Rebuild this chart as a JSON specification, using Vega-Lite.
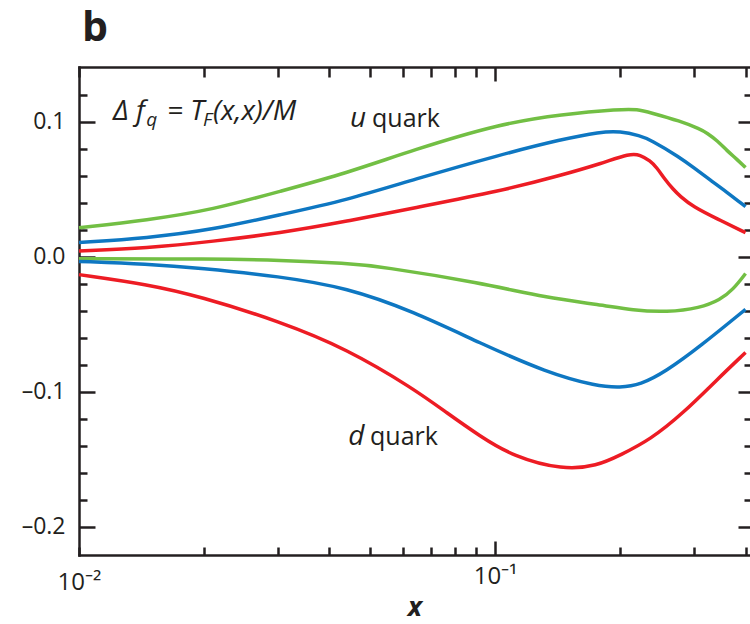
{
  "$schema": "https://vega.github.io/schema/vega-lite/v6.json",
  "width": 671,
  "height": 488,
  "autosize": {"type": "none"},
  "padding": {"left": 79, "top": 67, "right": 0, "bottom": 69},
  "background": "white",
  "config": {
    "view": {"stroke": null},
    "font": "Open Sans",
    "axis": {"domainColor": "#231f20", "tickColor": "#231f20", "labelColor": "#231f20", "titleColor": "#231f20", "domainWidth": 2.5, "tickWidth": 2.5, "grid": false, "domainCap": "square"}
  },
  "datasets": {
    "curves": [
      {"quark": "u", "set": "s1", "x": 0.01, "y": 0.0215},
      {"quark": "u", "set": "s1", "x": 0.01457, "y": 0.027},
      {"quark": "u", "set": "s1", "x": 0.021, "y": 0.0348},
      {"quark": "u", "set": "s1", "x": 0.0304, "y": 0.0484},
      {"quark": "u", "set": "s1", "x": 0.0441, "y": 0.062},
      {"quark": "u", "set": "s1", "x": 0.0635, "y": 0.079},
      {"quark": "u", "set": "s1", "x": 0.1028, "y": 0.0985},
      {"quark": "u", "set": "s1", "x": 0.145, "y": 0.1055},
      {"quark": "u", "set": "s1", "x": 0.2, "y": 0.1093},
      {"quark": "u", "set": "s1", "x": 0.22, "y": 0.1092},
      {"quark": "u", "set": "s1", "x": 0.236, "y": 0.1067},
      {"quark": "u", "set": "s1", "x": 0.2785, "y": 0.1005},
      {"quark": "u", "set": "s1", "x": 0.311, "y": 0.0945},
      {"quark": "u", "set": "s1", "x": 0.3236, "y": 0.0915},
      {"quark": "u", "set": "s1", "x": 0.3418, "y": 0.086},
      {"quark": "u", "set": "s1", "x": 0.3612, "y": 0.0785},
      {"quark": "u", "set": "s1", "x": 0.38, "y": 0.0725},
      {"quark": "u", "set": "s1", "x": 0.4, "y": 0.066},
      {"quark": "u", "set": "s2", "x": 0.01, "y": 0.0105},
      {"quark": "u", "set": "s2", "x": 0.01457, "y": 0.0138},
      {"quark": "u", "set": "s2", "x": 0.021, "y": 0.02},
      {"quark": "u", "set": "s2", "x": 0.0304, "y": 0.031},
      {"quark": "u", "set": "s2", "x": 0.0441, "y": 0.042},
      {"quark": "u", "set": "s2", "x": 0.0635, "y": 0.057},
      {"quark": "u", "set": "s2", "x": 0.1028, "y": 0.0755},
      {"quark": "u", "set": "s2", "x": 0.145, "y": 0.087},
      {"quark": "u", "set": "s2", "x": 0.1789, "y": 0.0925},
      {"quark": "u", "set": "s2", "x": 0.2, "y": 0.093},
      {"quark": "u", "set": "s2", "x": 0.2232, "y": 0.0895},
      {"quark": "u", "set": "s2", "x": 0.236, "y": 0.0867},
      {"quark": "u", "set": "s2", "x": 0.2785, "y": 0.0735},
      {"quark": "u", "set": "s2", "x": 0.3, "y": 0.066},
      {"quark": "u", "set": "s2", "x": 0.328, "y": 0.057},
      {"quark": "u", "set": "s2", "x": 0.36, "y": 0.048},
      {"quark": "u", "set": "s2", "x": 0.4, "y": 0.037},
      {"quark": "u", "set": "s3", "x": 0.01, "y": 0.0042},
      {"quark": "u", "set": "s3", "x": 0.01457, "y": 0.0064},
      {"quark": "u", "set": "s3", "x": 0.021, "y": 0.0113},
      {"quark": "u", "set": "s3", "x": 0.0304, "y": 0.0175},
      {"quark": "u", "set": "s3", "x": 0.0441, "y": 0.0262},
      {"quark": "u", "set": "s3", "x": 0.0635, "y": 0.036},
      {"quark": "u", "set": "s3", "x": 0.1028, "y": 0.0485},
      {"quark": "u", "set": "s3", "x": 0.145, "y": 0.0605},
      {"quark": "u", "set": "s3", "x": 0.18, "y": 0.069},
      {"quark": "u", "set": "s3", "x": 0.2112, "y": 0.0765},
      {"quark": "u", "set": "s3", "x": 0.2232, "y": 0.0755},
      {"quark": "u", "set": "s3", "x": 0.236, "y": 0.071},
      {"quark": "u", "set": "s3", "x": 0.2449, "y": 0.066},
      {"quark": "u", "set": "s3", "x": 0.2563, "y": 0.057},
      {"quark": "u", "set": "s3", "x": 0.2678, "y": 0.05},
      {"quark": "u", "set": "s3", "x": 0.2785, "y": 0.0447},
      {"quark": "u", "set": "s3", "x": 0.2992, "y": 0.037},
      {"quark": "u", "set": "s3", "x": 0.3418, "y": 0.028},
      {"quark": "u", "set": "s3", "x": 0.4, "y": 0.0178},
      {"quark": "d", "set": "s1", "x": 0.01, "y": -0.0015},
      {"quark": "d", "set": "s1", "x": 0.021, "y": -0.0017},
      {"quark": "d", "set": "s1", "x": 0.0304, "y": -0.0025},
      {"quark": "d", "set": "s1", "x": 0.0441, "y": -0.005},
      {"quark": "d", "set": "s1", "x": 0.0529, "y": -0.0072},
      {"quark": "d", "set": "s1", "x": 0.092, "y": -0.0193},
      {"quark": "d", "set": "s1", "x": 0.1334, "y": -0.0306},
      {"quark": "d", "set": "s1", "x": 0.1789, "y": -0.0356},
      {"quark": "d", "set": "s1", "x": 0.2147, "y": -0.0398},
      {"quark": "d", "set": "s1", "x": 0.259, "y": -0.0412},
      {"quark": "d", "set": "s1", "x": 0.311, "y": -0.038},
      {"quark": "d", "set": "s1", "x": 0.3475, "y": -0.032},
      {"quark": "d", "set": "s1", "x": 0.3733, "y": -0.0244},
      {"quark": "d", "set": "s1", "x": 0.4, "y": -0.0125},
      {"quark": "d", "set": "s2", "x": 0.01, "y": -0.0035},
      {"quark": "d", "set": "s2", "x": 0.0146, "y": -0.0055},
      {"quark": "d", "set": "s2", "x": 0.0195, "y": -0.0084},
      {"quark": "d", "set": "s2", "x": 0.0304, "y": -0.0146},
      {"quark": "d", "set": "s2", "x": 0.0441, "y": -0.023},
      {"quark": "d", "set": "s2", "x": 0.0635, "y": -0.0405},
      {"quark": "d", "set": "s2", "x": 0.092, "y": -0.064},
      {"quark": "d", "set": "s2", "x": 0.1334, "y": -0.086},
      {"quark": "d", "set": "s2", "x": 0.1758, "y": -0.096},
      {"quark": "d", "set": "s2", "x": 0.2, "y": -0.097},
      {"quark": "d", "set": "s2", "x": 0.2232, "y": -0.095},
      {"quark": "d", "set": "s2", "x": 0.2575, "y": -0.085},
      {"quark": "d", "set": "s2", "x": 0.311, "y": -0.0665},
      {"quark": "d", "set": "s2", "x": 0.4, "y": -0.039},
      {"quark": "d", "set": "s3", "x": 0.01, "y": -0.0133},
      {"quark": "d", "set": "s3", "x": 0.0146, "y": -0.0205},
      {"quark": "d", "set": "s3", "x": 0.0195, "y": -0.0294},
      {"quark": "d", "set": "s3", "x": 0.0304, "y": -0.048},
      {"quark": "d", "set": "s3", "x": 0.0441, "y": -0.0684},
      {"quark": "d", "set": "s3", "x": 0.0635, "y": -0.0975},
      {"quark": "d", "set": "s3", "x": 0.0767, "y": -0.1158},
      {"quark": "d", "set": "s3", "x": 0.092, "y": -0.133},
      {"quark": "d", "set": "s3", "x": 0.1105, "y": -0.148},
      {"quark": "d", "set": "s3", "x": 0.1457, "y": -0.158},
      {"quark": "d", "set": "s3", "x": 0.1758, "y": -0.155},
      {"quark": "d", "set": "s3", "x": 0.2, "y": -0.147},
      {"quark": "d", "set": "s3", "x": 0.236, "y": -0.1356},
      {"quark": "d", "set": "s3", "x": 0.2831, "y": -0.116},
      {"quark": "d", "set": "s3", "x": 0.3418, "y": -0.091},
      {"quark": "d", "set": "s3", "x": 0.4, "y": -0.071}
    ]
  },
  "resolve": {"axis": {"x": "independent", "y": "independent"}},
  "layer": [
    {
      "data": {"name": "curves"},
      "mark": {"type": "line", "interpolate": "basis", "strokeWidth": 3.5, "strokeCap": "butt"},
      "encoding": {
        "x": {"field": "x", "type": "quantitative",
          "scale": {"type": "log", "domain": [0.01, 0.41], "nice": false},
          "axis": {"orient": "bottom", "title": "x", "titleFont": "Open Sans", "titleFontSize": 27, "titleFontWeight": "bold", "titleFontStyle": "italic", "titleBaseline": "alphabetic", "titleY": 60,
            "values": [0.01, 0.02, 0.03, 0.04, 0.05, 0.06, 0.07, 0.08, 0.09, 0.1, 0.2, 0.3, 0.4],
            "labelExpr": "datum.value == 0.01 ? '10⁻²' : datum.value == 0.1 ? '10⁻¹' : ''",
            "labelFontSize": 24, "labelPadding": 23, "labelFlush": false, "labelOverlap": false,
            "tickSize": {"condition": {"test": "datum.value == 0.1", "value": -14}, "value": -8}}},
        "y": {"field": "y", "type": "quantitative",
          "scale": {"domain": [-0.221, 0.1405], "nice": false, "zero": false},
          "axis": {"orient": "left", "title": null,
            "values": [0.12, 0.1, 0.08, 0.06, 0.04, 0.02, 0, -0.02, -0.04, -0.06, -0.08, -0.1, -0.12, -0.14, -0.16, -0.18, -0.2],
            "labelExpr": "datum.value == 0.1 ? '0.1' : datum.value == 0 ? '0.0' : datum.value == -0.1 ? '–0.1' : datum.value == -0.2 ? '–0.2' : ''",
            "labelFontSize": 23, "labelPadding": 30, "labelOverlap": false, "labelFlush": false,
            "tickSize": {"condition": {"test": "datum.value == 0.1 || datum.value == 0 || datum.value == -0.1 || datum.value == -0.2", "value": -16}, "value": -8}}},
        "color": {"field": "set", "type": "nominal", "scale": {"domain": ["s1", "s2", "s3"], "range": ["#72bf44", "#0e77c2", "#ed1c24"]}, "legend": null},
        "detail": {"field": "quark"}
      }
    },
    {
      "mark": {"type": "rule", "color": "#231f20", "strokeWidth": 2.5},
      "encoding": {"y": {"datum": 0, "type": "quantitative", "axis": null}}
    },
    {
      "data": {"values": [{"x": 0.01017, "y": 0.1595, "t": "b"}]},
      "mark": {"type": "text", "align": "left", "baseline": "alphabetic", "font": "Open Sans", "fontWeight": "bold", "fontSize": 41, "color": "#231f20"},
      "encoding": {
        "x": {"field": "x", "type": "quantitative", "axis": null},
        "y": {"field": "y", "type": "quantitative", "axis": null},
        "text": {"field": "t"}
      }
    },
    {
      "data": {"values": [
        {"x": 0.01207, "y": 0.1015, "t": "Δ f"},
        {"x": 0.01628, "y": 0.1015, "t": "= T"},
        {"x": 0.021, "y": 0.1015, "t": "(x,x)/M"},
        {"x": 0.04481, "y": 0.0963, "t": "u"},
        {"x": 0.04436, "y": -0.1395, "t": "d"}
      ]},
      "mark": {"type": "text", "align": "left", "baseline": "alphabetic", "font": "Open Sans", "fontStyle": "italic", "fontSize": 28, "color": "#231f20"},
      "encoding": {
        "x": {"field": "x", "type": "quantitative", "axis": null},
        "y": {"field": "y", "type": "quantitative", "axis": null},
        "text": {"field": "t"}
      }
    },
    {
      "data": {"values": [
        {"x": 0.0145, "y": 0.0968, "t": "q"},
        {"x": 0.01987, "y": 0.0968, "t": "F"}
      ]},
      "mark": {"type": "text", "align": "left", "baseline": "alphabetic", "font": "Open Sans", "fontStyle": "italic", "fontSize": 19, "color": "#231f20"},
      "encoding": {
        "x": {"field": "x", "type": "quantitative", "axis": null},
        "y": {"field": "y", "type": "quantitative", "axis": null},
        "text": {"field": "t"}
      }
    },
    {
      "data": {"values": [
        {"x": 0.05062, "y": 0.0963, "t": "quark"},
        {"x": 0.05006, "y": -0.1395, "t": "quark"}
      ]},
      "mark": {"type": "text", "align": "left", "baseline": "alphabetic", "font": "Open Sans", "fontSize": 25, "color": "#231f20"},
      "encoding": {
        "x": {"field": "x", "type": "quantitative",
          "axis": {"orient": "top", "title": null, "labels": false, "domain": true,
            "values": [0.01, 0.02, 0.03, 0.04, 0.05, 0.06, 0.07, 0.08, 0.09, 0.1, 0.2, 0.3, 0.4],
            "tickSize": {"condition": {"test": "datum.value == 0.1", "value": -14}, "value": -10}}},
        "y": {"field": "y", "type": "quantitative",
          "axis": {"orient": "right", "title": null, "labels": false, "domain": false,
            "values": [0.12, 0.1, 0.08, 0.06, 0.04, 0.02, 0, -0.02, -0.04, -0.06, -0.08, -0.1, -0.12, -0.14, -0.16, -0.18, -0.2],
            "tickSize": {"condition": {"test": "datum.value == 0.1 || datum.value == 0 || datum.value == -0.1 || datum.value == -0.2", "value": -12}, "value": -6}}},
        "text": {"field": "t"}
      }
    }
  ]
}
